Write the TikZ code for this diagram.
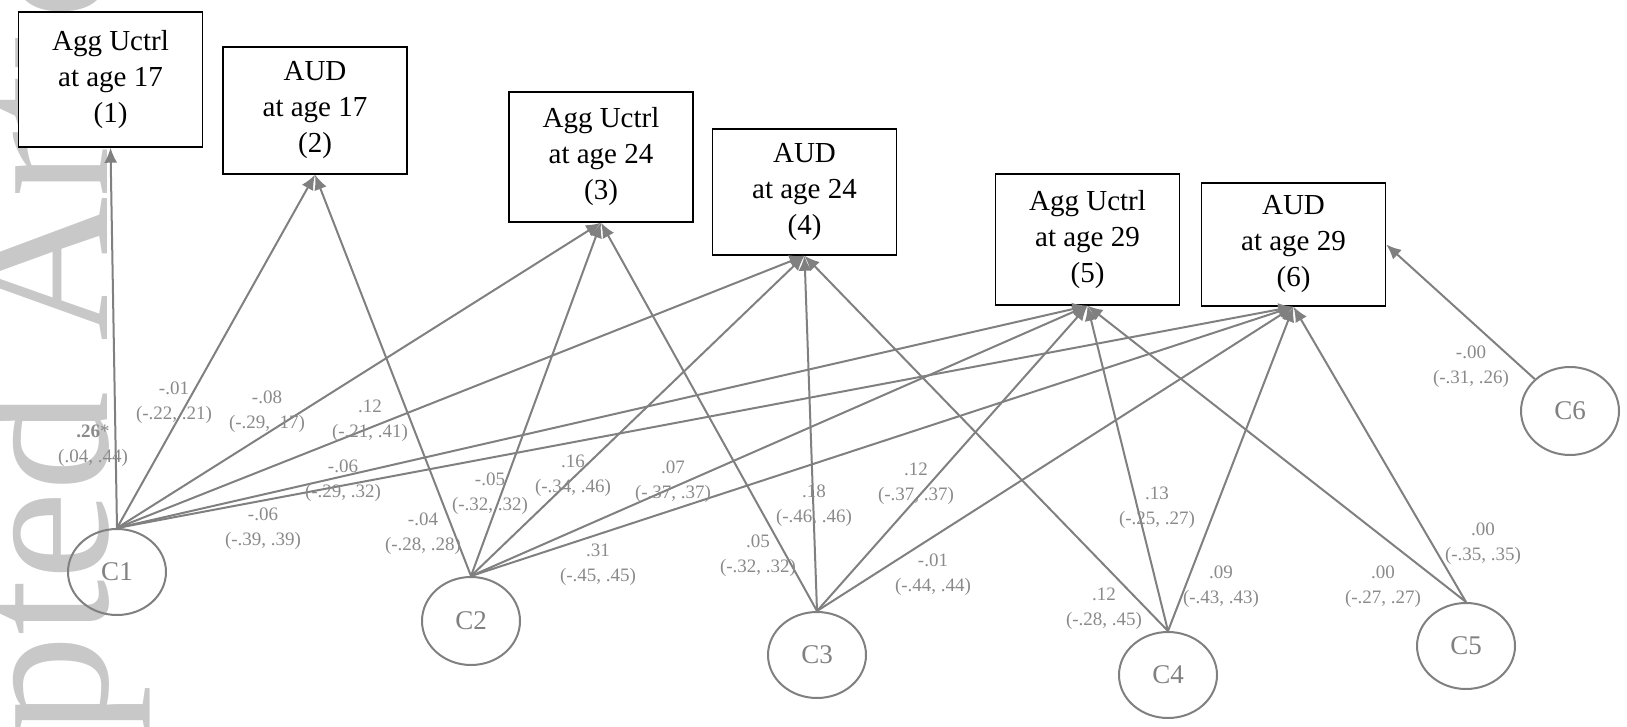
\documentclass[tikz,border=0pt]{standalone}
\usepackage{fontspec}
\setmainfont{Liberation Serif}
\usetikzlibrary{arrows.meta,shapes.geometric}
\definecolor{linegray}{RGB}{128,128,128}
\definecolor{labgray}{RGB}{138,138,138}
\definecolor{wmgray}{RGB}{200,200,200}
\tikzstyle{box} = [draw, fill=white, rectangle, line width=0.7pt,
    minimum width=92pt, align=center, font=\fontsize{14.5}{18}\selectfont]
\tikzstyle{cvar} = [draw=linegray, ellipse, line width=1pt, text=linegray,
    minimum width=49pt, minimum height=43pt, font=\fontsize{13.5}{16}\selectfont]
\tikzstyle{coef} = [align=center, text=labgray, font=\fontsize{9.5}{12.5}\selectfont]
\tikzstyle{path} = [draw=linegray, line width=1pt, ->]

\begin{document}
\begin{tikzpicture}[x=0.5pt, y=-0.5pt, >={Latex[length=7.5pt,width=6.5pt]},
    every node/.style={inner sep=0pt}]
    \useasboundingbox (0,0) rectangle (1627,727);

    % watermark
    \node (wm) [rotate=90, anchor=base east, text=wmgray,
        font=\fontsize{100}{100}\selectfont] at (107,-214) {Accepted Article};

    % outcomes
    \node (agg17) [box, minimum height=67.5pt] at (110.5,79.5) {Agg Uctrl\\at age 17\\(1)};
    \node (aud17) [box, minimum height=63.5pt] at (315,110.5) {AUD\\at age 17\\(2)};
    \node (agg24) [box, minimum height=65pt] at (601,157) {Agg Uctrl\\at age 24\\(3)};
    \node (aud24) [box, minimum height=63pt] at (804.5,192) {AUD\\at age 24\\(4)};
    \node (agg29) [box, minimum height=65.5pt] at (1087.5,239.5) {Agg Uctrl\\at age 29\\(5)};
    \node (aud29) [box, minimum height=61.5pt] at (1293.5,244.5) {AUD\\at age 29\\(6)};

    % classes
    \node (c1) [cvar] at (117,572) {C1};
    \node (c2) [cvar, minimum height=44pt] at (471,621) {C2};
    \node (c3) [cvar] at (817,655) {C3};
    \node (c4) [cvar] at (1168,675) {C4};
    \node (c5) [cvar] at (1466,646) {C5};
    \node (c6) [cvar, minimum height=44pt] at (1570,411) {C6};

    % paths
    \draw[path] (c1.north) -- (agg17.south);
    \draw[path] (c1.north) -- (aud17.south);
    \draw[path] (c1.north) -- (agg24.south);
    \draw[path] (c1.north) -- (aud24.south);
    \draw[path] (c1.north) -- (agg29.south);
    \draw[path] (c1.north) -- (aud29.south);
    \draw[path] (c2.north) -- (aud17.south);
    \draw[path] (c2.north) -- (agg24.south);
    \draw[path] (c2.north) -- (aud24.south);
    \draw[path] (c2.north) -- (agg29.south);
    \draw[path] (c2.north) -- (aud29.south);
    \draw[path] (c3.north) -- (agg24.south);
    \draw[path] (c3.north) -- (aud24.south);
    \draw[path] (c3.north) -- (agg29.south);
    \draw[path] (c3.north) -- (aud29.south);
    \draw[path] (c4.north) -- (aud24.south);
    \draw[path] (c4.north) -- (agg29.south);
    \draw[path] (c4.north) -- (aud29.south);
    \draw[path] (c5.north) -- (agg29.south);
    \draw[path] (c5.north) -- (aud29.south);
    \draw[path] (c6) -- (aud29.east);

    % estimates
    \node (e11) [coef] at (93,446) {\textbf{.26}*\\(.04, .44)};
    \node (e12) [coef] at (174,403) {-.01\\(-.22, .21)};
    \node (e13) [coef] at (267,412) {-.08\\(-.29, .17)};
    \node (e14) [coef] at (370,421) {.12\\(-.21, .41)};
    \node (e15) [coef] at (343,481) {-.06\\(-.29, .32)};
    \node (e16) [coef] at (263,529) {-.06\\(-.39, .39)};
    \node (e22) [coef] at (423,534) {-.04\\(-.28, .28)};
    \node (e23) [coef] at (490,494) {-.05\\(-.32, .32)};
    \node (e24) [coef] at (573,476) {.16\\(-.34, .46)};
    \node (e25) [coef] at (673,482) {.07\\(-.37, .37)};
    \node (e26) [coef] at (598,565) {.31\\(-.45, .45)};
    \node (e33) [coef] at (758,556) {.05\\(-.32, .32)};
    \node (e34) [coef] at (814,506) {.18\\(-.46, .46)};
    \node (e35) [coef] at (916,484) {.12\\(-.37, .37)};
    \node (e36) [coef] at (933,575) {-.01\\(-.44, .44)};
    \node (e44) [coef] at (1104,609) {.12\\(-.28, .45)};
    \node (e45) [coef] at (1157,508) {.13\\(-.25, .27)};
    \node (e46) [coef] at (1221,587) {.09\\(-.43, .43)};
    \node (e55) [coef] at (1383,587) {.00\\(-.27, .27)};
    \node (e56) [coef] at (1483,544) {.00\\(-.35, .35)};
    \node (e66) [coef] at (1471,367) {-.00\\(-.31, .26)};

\end{tikzpicture}
\end{document}
